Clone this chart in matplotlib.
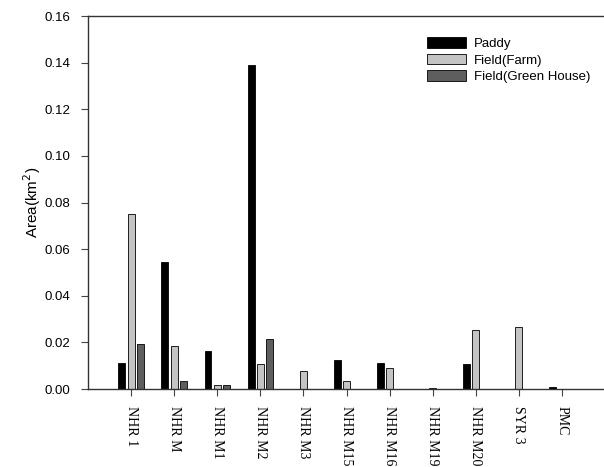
import matplotlib
matplotlib.use("Agg")
import matplotlib.pyplot as plt
import numpy as np

sites = ["NHR 1", "NHR M", "NHR M1", "NHR M2", "NHR M3", "NHR M15",
         "NHR M16", "NHR M19", "NHR M20", "SYR 3", "PMC"]
paddy = [0.0113, 0.0545, 0.0164, 0.139, 0.0, 0.0123, 0.0110, 0.0, 0.0107, 0.0, 0.0007]
farm = [0.0749, 0.0183, 0.0018, 0.0109, 0.0077, 0.0033, 0.0090, 0.0004, 0.0254, 0.0267, 0.0]
green = [0.0192, 0.0033, 0.0018, 0.0216, 0.0, 0.0, 0.0, 0.0, 0.0, 0.0, 0.0]

fig = plt.figure(figsize=(6.04, 4.67), dpi=100)
ax = fig.add_axes([0.1457, 0.167, 0.856, 0.7987])

x = np.arange(len(sites))
w = 0.16
step = 0.215
ax.bar(x - step, paddy, w, color="black", edgecolor="black", linewidth=0.6, label="Paddy")
ax.bar(x, farm, w, color="#c4c4c4", edgecolor="black", linewidth=0.6, label="Field(Farm)")
ax.bar(x + step, green, w, color="#5e5e5e", edgecolor="black", linewidth=0.6, label="Field(Green House)")

ax.set_xlim(-1, 11)
ax.set_ylim(0, 0.16)
ax.set_yticks(np.arange(0, 0.161, 0.02))
ax.set_yticklabels([f"{v:.2f}" for v in np.arange(0, 0.161, 0.02)],
                   fontfamily="Liberation Sans", fontsize=9.5)
ax.set_xticks(x)
ax.set_xticklabels(sites, rotation=270, fontfamily="Liberation Serif", fontsize=10)
ax.tick_params(axis="both", direction="out", length=5, width=0.8, color="#444444")
ax.tick_params(axis="y", pad=8)
ax.tick_params(axis="x", pad=7)
ax.set_ylabel("Area(km$^2$)", fontfamily="Liberation Sans", fontsize=11, labelpad=1)

ax.spines["right"].set_visible(False)
for s in ["left", "bottom", "top"]:
    ax.spines[s].set_color("#333333")
    ax.spines[s].set_linewidth(1.0)

leg = ax.legend(loc="upper right", bbox_to_anchor=(0.995, 0.975), frameon=False,
                prop={"family": "Liberation Sans", "size": 9.5},
                handlelength=3.0, handleheight=0.9, handletextpad=0.6, labelspacing=0.25)

fig.savefig("out.png", dpi=100)
